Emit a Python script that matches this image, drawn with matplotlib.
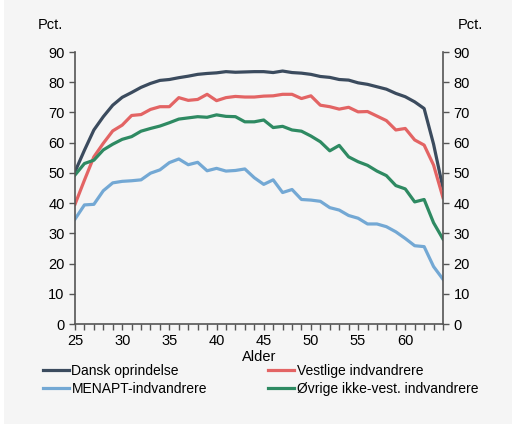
import numpy as np
import matplotlib.pyplot as plt
from matplotlib.patches import Rectangle

plt.rcParams['font.family'] = ['Liberation Sans', 'DejaVu Sans']

alder = list(range(25, 65))

dansk = [50.4, 57.5, 64.2, 68.6, 72.4, 75.0, 76.6, 78.3, 79.6, 80.6,
         80.9, 81.5, 82.0, 82.6, 82.9, 83.1, 83.5, 83.3, 83.4, 83.5,
         83.5, 83.2, 83.7, 83.2, 83.0, 82.6, 81.9, 81.6, 80.9, 80.7,
         79.8, 79.3, 78.5, 77.7, 76.3, 75.2, 73.5, 71.3, 59.5, 44.9]

vestlige = [39.6, 47.6, 55.3, 59.8, 63.9, 65.8, 69.0, 69.3, 71.0, 71.9,
            71.9, 74.9, 74.0, 74.3, 76.0, 73.9, 74.9, 75.3, 75.1, 75.1,
            75.4, 75.5, 76.0, 76.0, 74.6, 75.5, 72.4, 71.9, 71.1, 71.7,
            70.2, 70.3, 68.8, 67.3, 64.2, 64.7, 60.9, 59.2, 52.6, 41.8]

menapt = [34.7, 39.4, 39.6, 44.1, 46.7, 47.2, 47.4, 47.7, 49.9, 51.0,
          53.4, 54.6, 52.7, 53.5, 50.7, 51.5, 50.6, 50.8, 51.3, 48.4,
          46.2, 47.7, 43.5, 44.5, 41.2, 41.0, 40.6, 38.5, 37.7, 35.9,
          35.0, 33.1, 33.1, 32.2, 30.5, 28.3, 25.9, 25.6, 19.0, 14.8]

oevrige = [49.3, 53.1, 54.2, 57.6, 59.5, 61.1, 62.0, 63.8, 64.7, 65.5,
           66.6, 67.8, 68.2, 68.6, 68.4, 69.2, 68.7, 68.6, 66.9, 66.9,
           67.5, 65.0, 65.4, 64.2, 63.8, 62.2, 60.3, 57.3, 59.1, 55.3,
           53.7, 52.5, 50.6, 49.1, 45.8, 44.7, 40.4, 41.2, 33.5, 28.1]

bg = '#f5f5f5'
fig = plt.figure(figsize=(5.14, 4.24), dpi=100, facecolor='white')
fig.patches.append(Rectangle((4 / 514, 0), 508 / 514, 1, transform=fig.transFigure,
                             facecolor=bg, edgecolor='none', zorder=-10))
ax = fig.add_axes([75 / 514, 1 - 324 / 424, 368 / 514, 272 / 424])
ax.set_facecolor(bg)

l1, = ax.plot(alder, dansk, color='#3b4b5e', lw=2.3, label='Dansk oprindelse')
l2, = ax.plot(alder, vestlige, color='#e36464', lw=2.3, label='Vestlige indvandrere')
l3, = ax.plot(alder, menapt, color='#73a8d4', lw=2.3, label='MENAPT-indvandrere')
l4, = ax.plot(alder, oevrige, color='#2e8a62', lw=2.3, label='Øvrige ikke-vest. indvandrere')

ax.set_xlim(25, 64)
ax.set_ylim(0, 90)
ax.set_yticks(range(0, 91, 10))
ax.set_xticks(range(25, 65, 5))
ax.set_xticks(range(25, 65), minor=True)
ax.spines['top'].set_visible(False)
for s in ['left', 'right', 'bottom']:
    ax.spines[s].set_color('#555555')
    ax.spines[s].set_linewidth(1.2)
ax.tick_params(which='both', direction='out', length=4, width=1, color='#555555',
               labelsize=10.5, right=True, labelright=True)
ax.tick_params(axis='x', which='minor', length=4)
ax.set_xlabel('Alder', fontsize=10.5, labelpad=1)

fig.text(50 / 514, 1 - 25 / 424, 'Pct.', fontsize=10.5, ha='center', va='center')
fig.text(470 / 514, 1 - 25 / 424, 'Pct.', fontsize=10.5, ha='center', va='center')

fig.legend([l1, l3, l2, l4], [l.get_label() for l in (l1, l3, l2, l4)],
           ncol=2, loc='upper left', bbox_to_anchor=(43 / 514, 1 - 364 / 424),
           frameon=False, fontsize=10, handlelength=1.9, handletextpad=0.15,
           columnspacing=4.4, labelspacing=0.3, borderpad=0, borderaxespad=0)

fig.savefig('out.png', dpi=100, facecolor=fig.get_facecolor())
